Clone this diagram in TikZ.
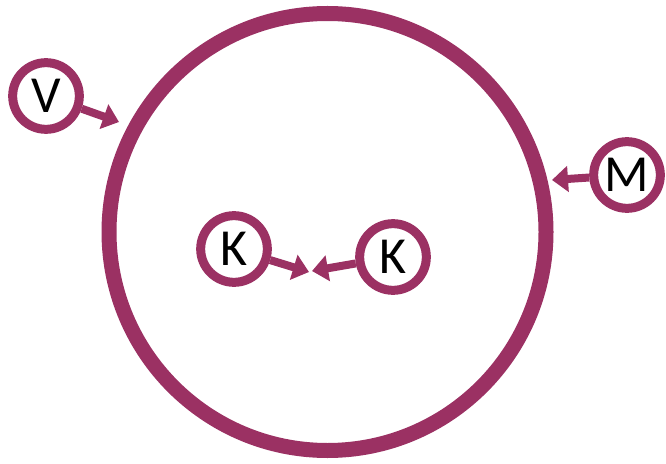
\documentclass[tikz,border=0pt]{standalone}
\usepackage{fontspec}
\setmainfont{Carlito}
\usepackage{tikz}
\usetikzlibrary{arrows.meta,positioning}
\definecolor{plum}{HTML}{9B3163}
\begin{document}
\begin{tikzpicture}[x=0.75pt,y=-0.75pt,line cap=butt,line join=round,
  ring/.style={draw=plum,line width=11.25pt},
  agent/.style={circle,draw=plum,fill=white,line width=6.75pt,minimum size=50pt,inner sep=0pt,font=\fontsize{39}{44}\selectfont},
  push/.style={draw=plum,line width=6pt,-{Triangle[length=12pt,width=19pt]}}]
\path[use as bounding box] (0,0) rectangle (666,463);
\draw[ring] (327.5,232) circle[radius=218.5];
\node[agent] (v) at (46,96) {V};
\node[agent] (m) at (627,175) {M};
\node[agent] (kleft) at (234,249) {K};
\node[agent] (kright) at (393,257) {K};
\coordinate (vtip) at (119,122);
\coordinate (mtip) at (552,180);
\coordinate (kltip) at (309,272);
\coordinate (krtip) at (312,271);
\draw[push] (v) -- (vtip);
\draw[push] (m) -- (mtip);
\draw[push] (kleft) -- (kltip);
\draw[push] (kright) -- (krtip);
\end{tikzpicture}
\end{document}
